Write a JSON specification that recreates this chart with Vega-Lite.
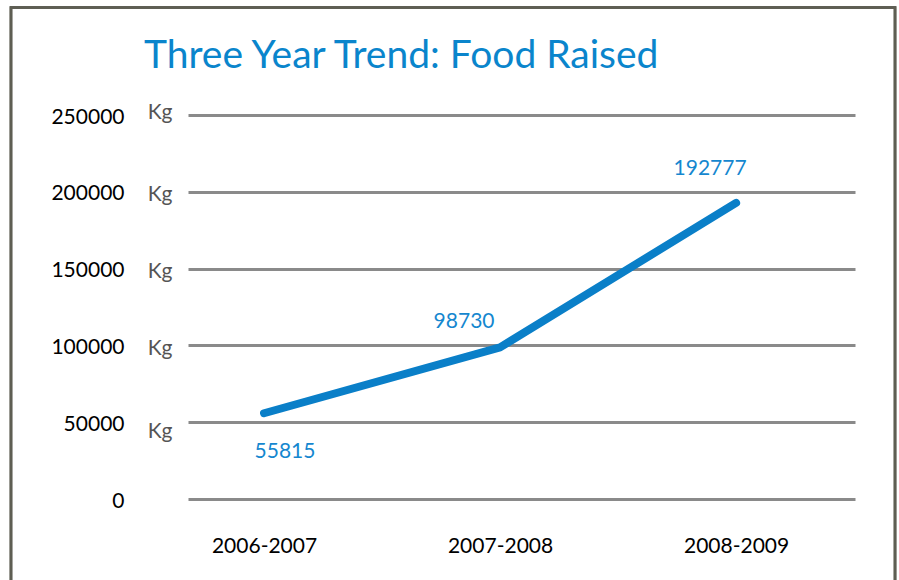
{
  "$schema": "https://vega.github.io/schema/vega-lite/v6.json",
  "width": 667,
  "height": 384,
  "autosize": {"type": "none"},
  "padding": {"left": 188, "top": 115, "right": 44, "bottom": 81},
  "background": "white",
  "config": {"view": {"stroke": null}},
  "title": {
    "text": "Three Year Trend: Food Raised",
    "anchor": "start",
    "frame": "group",
    "font": "Lato",
    "fontSize": 39,
    "fontWeight": "normal",
    "color": "#0a85cc",
    "baseline": "alphabetic",
    "offset": 0,
    "dx": -44,
    "dy": 101
  },
  "data": {
    "values": [
      {"period": "2006-2007", "kg": 55815},
      {"period": "2007-2008", "kg": 98730},
      {"period": "2008-2009", "kg": 192777}
    ]
  },
  "resolve": {"scale": {"x": "independent"}, "axis": {"y": "independent"}},
  "layer": [
    {
      "mark": {"type": "rect", "filled": false, "stroke": "#5e5e53", "strokeWidth": 2.5},
      "encoding": {
        "x": {"datum": -0.2654, "type": "quantitative", "scale": {"domain": [0, 1], "nice": false}, "axis": null},
        "x2": {"datum": 1.06},
        "y": {"datum": 320000, "type": "quantitative", "scale": {"domain": [0, 250000], "nice": false}, "axis": null},
        "y2": {"datum": -80000}
      }
    },
    {
      "mark": {"type": "line", "color": "#0a7fc8", "strokeWidth": 8, "strokeCap": "round", "strokeJoin": "round"},
      "encoding": {
        "x": {
          "field": "period", "type": "ordinal",
          "scale": {"type": "point", "padding": 0.413, "align": 0.39},
          "axis": {
            "orient": "bottom", "title": null, "domain": false, "ticks": false,
            "labelAngle": 0, "labelPadding": 36, "labelFont": "Lato", "labelFontSize": 21,
            "labelColor": "#000000"
          }
        },
        "y": {
          "field": "kg", "type": "quantitative",
          "scale": {"domain": [0, 250000], "nice": false},
          "axis": {
            "orient": "left", "title": null, "domain": false, "ticks": false,
            "values": [0, 50000, 100000, 150000, 200000, 250000],
            "format": "d", "labelPadding": 64, "labelFont": "Lato", "labelFontSize": 21,
            "labelColor": "#000000", "labelOffset": 2,
            "grid": true, "gridColor": "#8a8a8a", "gridWidth": 3
          }
        }
      }
    },
    {
      "mark": {
        "type": "text", "font": "Lato", "fontSize": 21, "color": "#1587cf",
        "baseline": "middle", "align": "center",
        "dx": {"expr": "datum.period == '2006-2007' ? 21 : datum.period == '2007-2008' ? -36 : -26"},
        "dy": {"expr": "datum.period == '2006-2007' ? 39 : datum.period == '2007-2008' ? -25 : -34"}
      },
      "encoding": {
        "x": {
          "field": "period", "type": "ordinal",
          "scale": {"type": "point", "padding": 0.413, "align": 0.39},
          "axis": null
        },
        "y": {
          "field": "kg", "type": "quantitative",
          "axis": {
            "orient": "left", "title": null, "domain": false, "ticks": false, "grid": false,
            "values": [0, 50000, 100000, 150000, 200000, 250000],
            "labelExpr": "datum.value > 0 ? 'Kg' : ''",
            "labelPadding": 16, "labelFont": "Lato", "labelFontSize": 21, "labelColor": "#555555",
            "labelOffset": {
              "condition": [
                {"test": "datum.value == 250000", "value": -3},
                {"test": "datum.value == 50000", "value": 9}
              ],
              "value": 3
            }
          }
        },
        "text": {"field": "kg", "type": "quantitative", "format": "d"}
      }
    }
  ]
}
